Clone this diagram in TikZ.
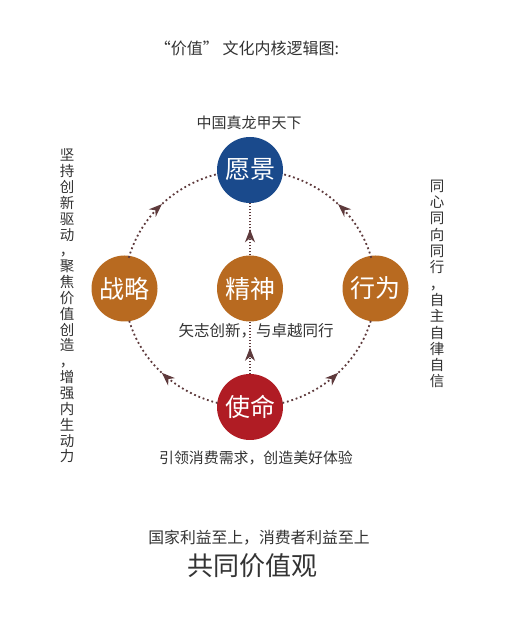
\documentclass[tikz,border=0pt]{standalone}
\usepackage{fontspec}
\setmainfont{Noto Sans CJK SC}
\usetikzlibrary{arrows.meta,decorations.markings}
\definecolor{cblue}{HTML}{1A4A8C}
\definecolor{corange}{HTML}{B86A20}
\definecolor{cred}{HTML}{B01C24}
\definecolor{cdot}{HTML}{5E3A3C}
\definecolor{ctext}{HTML}{333333}
\begin{document}
\begin{tikzpicture}[x=1pt,y=1pt,
  ball/.style={circle,minimum size=66pt,inner sep=0pt,text=white,font=\fontsize{25}{25}\selectfont},
  lbl/.style={text=ctext,inner sep=0pt},
  midarrow/.style={postaction={decorate},decoration={markings,mark=at position 0.5 with {\arrow[cdot,solid]{Stealth[length=13pt,width=10pt,inset=4pt]}}}},
  ring/.style={draw=cdot,line width=1.8pt,dash pattern=on 1.8pt off 2.8pt,midarrow},
  vline/.style={draw=cdot,line width=1.3pt,dash pattern=on 1.2pt off 1.8pt,midarrow}]
\fill[white] (0,0) rectangle (514,627);
\useasboundingbox (0,0) rectangle (514,627);

\coordinate (O) at (250,338.5);
\node[ball,fill=cblue]   (yuanjing) at ([shift={(90:125.5 and 118.5)}]O) {愿景};
\node[ball,fill=corange] (zhanlue)  at ([shift={(180:125.5 and 118.5)}]O) {战略};
\node[ball,fill=corange] (jingshen) at (O) {精神};
\node[ball,fill=corange] (xingwei)  at ([shift={(0:125.5 and 118.5)}]O) {行为};
\node[ball,fill=cred]    (shiming)  at ([shift={(270:125.5 and 118.5)}]O) {使命};

\draw[ring] ([shift={(255:125.5 and 118.5)}]O) arc[start angle=255,end angle=195,x radius=125.5,y radius=118.5];
\draw[ring] ([shift={(165:125.5 and 118.5)}]O) arc[start angle=165,end angle=105,x radius=125.5,y radius=118.5];
\draw[ring] ([shift={(285:125.5 and 118.5)}]O) arc[start angle=285,end angle=345,x radius=125.5,y radius=118.5];
\draw[ring] ([shift={(15:125.5 and 118.5)}]O) arc[start angle=15,end angle=75,x radius=125.5,y radius=118.5];
\draw[vline] (shiming) -- (jingshen);
\draw[vline] (jingshen) -- (yuanjing);

\node[lbl,font=\fontsize{16}{16}\selectfont] (title) at (247,579) {“价值” 文化内核逻辑图:};
\node[lbl,font=\fontsize{15}{15}\selectfont] (top) at (249,504) {中国真龙甲天下};
\node[lbl,font=\fontsize{15.5}{15.5}\selectfont] (mid) at (256,296) {矢志创新，与卓越同行};
\node[lbl,font=\fontsize{14.9}{14.9}\selectfont] (bot) at (256,169) {引领消费需求，创造美好体验};
\node[lbl,font=\fontsize{15.8}{15.8}\selectfont] (guojia) at (259,89) {国家利益至上，消费者利益至上};
\node[lbl,font=\fontsize{26}{26}\selectfont] (gongtong) at (252,61) {共同价值观};

\node[lbl,align=center,font=\fontsize{14.5}{15.85}\selectfont] (left) at (67,321)
 {坚\\持\\创\\新\\驱\\动\\，\\聚\\焦\\价\\值\\创\\造\\，\\增\\强\\内\\生\\动\\力};
\node[lbl,align=center,font=\fontsize{14.5}{16.3}\selectfont] (right) at (437,343)
 {同\\心\\同\\向\\同\\行\\，\\自\\主\\自\\律\\自\\信};
\end{tikzpicture}
\end{document}
